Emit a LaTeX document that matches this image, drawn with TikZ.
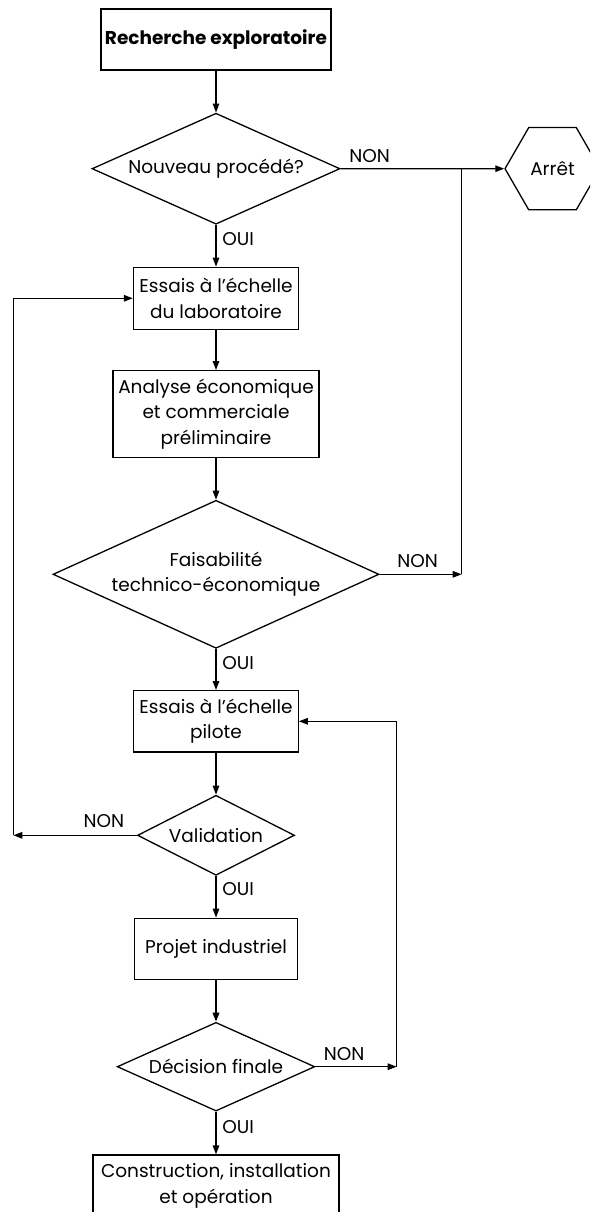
\documentclass[tikz,border=0pt]{standalone}
\usepackage{fontspec}
\setmainfont{Poppins}
\usetikzlibrary{arrows.meta,positioning,calc,shapes.geometric}

\begin{document}
\begin{tikzpicture}[
  x=1pt, y=-1pt,
  >={Triangle[length=9pt,width=6.5pt]},
  every node/.style={font=\fontsize{18.5}{25.6}\selectfont},
  proc/.style={rectangle, draw, line width=1.3pt, inner sep=0pt, align=center},
  decision/.style={diamond, draw, line width=1.3pt, inner sep=0pt, align=center},
  stopnode/.style={regular polygon, regular polygon sides=6, draw, line width=1.3pt, minimum size=95pt, inner sep=0pt},
  edge/.style={->, line width=1.3pt},
  lab/.style={inner sep=0pt}
]
\useasboundingbox (0,0) rectangle (590,1212);
\clip (0,0) rectangle (590,1212);

% --- nodes (absolute placement for fidelity) ---
\node[proc, font=\fontsize{18.5}{25.6}\selectfont\bfseries, minimum width=230pt, minimum height=61pt] (rech) at (216,39.5) {Recherche exploratoire};
\node[decision, minimum width=248pt, minimum height=111pt, aspect=2.2] (nouv) at (216,168.7) {Nouveau procédé?};
\node[stopnode] (arret) at (552.5,168.7) {Arrêt};
\node[proc, minimum width=165pt, minimum height=62pt] (labo) at (216,298.3) {Essais à l’échelle\\du laboratoire};
\node[proc, minimum width=206pt, minimum height=86.6pt] (analyse) at (216,414) {Analyse économique\\et commerciale\\préliminaire};
\node[decision, minimum width=326pt, minimum height=148pt, aspect=2.2] (faisa) at (216,574.3) {Faisabilité\\technico-économique};
\node[proc, minimum width=164.4pt, minimum height=61.3pt] (pilote) at (216,721.3) {Essais à l’échelle\\pilote};
\node[decision, minimum width=157pt, minimum height=80pt, aspect=2] (valid) at (216,835.3) {Validation};
\node[proc, minimum width=163.3pt, minimum height=61pt] (projet) at (216,948.8) {Projet industriel};
\node[decision, minimum width=197.6pt, minimum height=88.7pt, aspect=2.2] (decis) at (216,1066.7) {Décision finale};
\node[proc, minimum width=246pt, minimum height=62pt] (constr) at (216,1186) {Construction, installation\\et opération};

% corners of the return lines
\coordinate (nj) at (461.7,168.7);
\coordinate (fj) at (461.7,574.3);
\coordinate (lc) at (13.3,835.3);
\coordinate (rc) at (396.7,1066.7);

% --- edges ---
% main column
\draw[edge] (rech) -- (nouv);
\draw[edge] (nouv) -- node[lab, pos=0.35, anchor=west, xshift=5.7pt] (oui1) {OUI} (labo);
\draw[edge] (labo) -- (analyse);
\draw[edge] (analyse) -- (faisa);
\draw[edge] (faisa) -- node[lab, pos=0.35, anchor=west, xshift=5.7pt] (oui2) {OUI} (pilote);
\draw[edge] (pilote) -- (valid);
\draw[edge] (valid) -- node[lab, pos=0.32, anchor=west, xshift=5.7pt] (oui3) {OUI} (projet);
\draw[edge, line width=1.9pt] (projet) -- (decis);
\draw[edge] (decis) -- node[lab, pos=0.35, anchor=west, xshift=5.7pt] (oui4) {OUI} (constr);

% NON to Arret
\draw[edge] (nouv) -- node[lab, pos=0, anchor=south west, xshift=8pt, yshift=5pt] (non1) {NON} (arret);
\draw[edge] (faisa.east) -- node[lab, pos=0, anchor=south west, xshift=17pt, yshift=5.6pt] (non2) {NON} (fj);
\draw[line width=1.3pt] (fj) -- (nj);

% Validation back to laboratoire
\draw[edge] (valid.west) -- node[lab, pos=0, anchor=south east, xshift=-12pt, yshift=6.6pt] (non3) {NON} (lc);
\draw[edge] (lc) |- (labo.west);

% Decision back to pilote
\draw[edge] (decis.east) -- node[lab, pos=0, anchor=south west, xshift=7.7pt, yshift=5.7pt] (non4) {NON} (rc);
\draw[edge] (rc) |- (pilote.east);

\end{tikzpicture}
\end{document}
